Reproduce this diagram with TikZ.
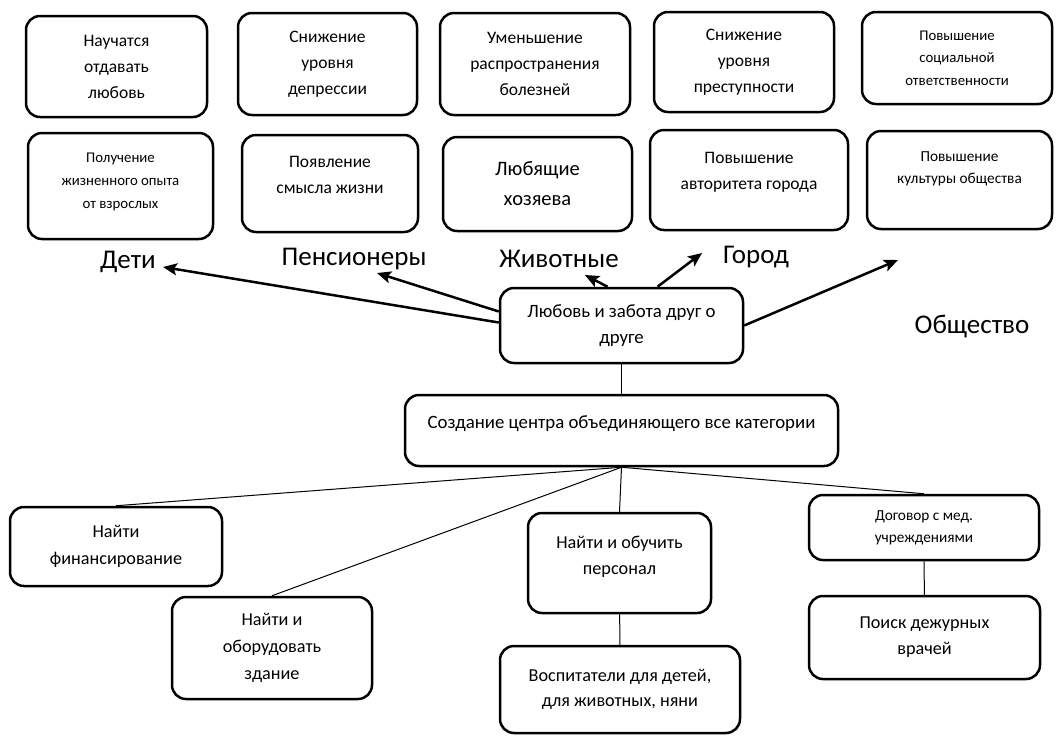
\documentclass[tikz,border=0pt]{standalone}
\usepackage{fontspec}
\setmainfont{Carlito}
\usetikzlibrary{arrows.meta}

\tikzset{
  box/.style={draw, line width=2.5pt, rounded corners=14pt, align=center, inner sep=0pt},
  fnt/.style 2 args={font=\fontsize{#1}{#2}\selectfont},
  cat/.style={anchor=base, font=\fontsize{27}{30}\selectfont},
  arr/.style={-{Stealth[length=14pt,width=12pt,inset=3pt]}, line width=2.5pt},
  link/.style={line width=1pt}
}

\begin{document}
\begin{tikzpicture}[x=1pt,y=-1pt]
    \useasboundingbox (0,0) rectangle (1060,737);
    % upper row
    \node[box, fnt={17.5}{26}, minimum width=181, minimum height=101] (learn) at (116.5,66.5) {Научатся\\отдавать\\любовь};
    \node[box, fnt={17.5}{26}, minimum width=179, minimum height=102] (depr) at (327.5,64) {Снижение\\уровня\\депрессии};
    \node[box, fnt={17.5}{26}, minimum width=190, minimum height=102] (ill) at (535,64) {Уменьшение\\распространения\\болезней};
    \node[box, fnt={17.5}{26}, minimum width=180, minimum height=100] (crime) at (744,62) {Снижение\\уровня\\преступности};
    \node[box, fnt={14.8}{22.5}, minimum width=190, minimum height=92] (resp) at (957,58) {Повышение\\социальной\\ответственности};
    % lower row
    \node[box, fnt={14.8}{23}, minimum width=185, minimum height=106] (exp) at (120.5,186) {Получение\\жизненного опыта\\от взрослых\\[-13pt]\mbox{}};
    \node[box, fnt={17.5}{26}, minimum width=176, minimum height=97] (sense) at (330,183.5) {Появление\\смысла жизни\\[-9pt]\mbox{}};
    \node[box, fnt={20.5}{30}, minimum width=189, minimum height=94] (owners) at (537.5,184) {Любящие\\хозяева};
    \node[box, fnt={17.5}{26}, minimum width=198, minimum height=100] (auth) at (749,180) {Повышение\\авторитета города\\[-8pt]\mbox{}};
    \node[box, fnt={15.3}{22}, minimum width=185, minimum height=98] (cult) at (959.5,180) {Повышение\\культуры общества\\[2pt]\mbox{}};
    % categories
    \node[cat] (kids) at (128,268) {Дети};
    \node[cat] (old) at (354,265) {Пенсионеры};
    \node[cat] (pets) at (559,267) {Животные};
    \node[cat] (city) at (756,263) {Город};
    \node[cat] (soc) at (972,333) {Общество};
    \coordinate (tkids) at (163,267);
    \coordinate (told) at (377,273);
    \coordinate (tpets) at (585,275);
    \coordinate (tcity) at (702,253);
    \coordinate (tsoc) at (898,260);
    % center
    \node[box, fnt={18.8}{26}, minimum width=243, minimum height=75] (love) at (621.5,325.5) {Любовь и забота друг о\\друге};
    \node[box, fnt={18.8}{26}, minimum width=433, minimum height=71] (centre) at (621.5,430.5) {Создание центра объединяющего все категории\\[-9pt]\mbox{}};
    % tasks
    \node[box, fnt={18.2}{27}, minimum width=212, minimum height=79] (money) at (116,546.5) {Найти\\финансирование};
    \node[box, fnt={18.2}{27}, minimum width=200, minimum height=102] (house) at (272,648) {Найти и\\оборудовать\\здание};
    \node[box, fnt={18.2}{26}, minimum width=183, minimum height=100] (staff) at (619.5,563) {Найти и обучить\\персонал\\[-10pt]\mbox{}};
    \node[box, fnt={18.2}{25}, minimum width=240, minimum height=87] (tutors) at (620,689.5) {Воспитатели для детей,\\для животных, няни};
    \node[box, fnt={15.3}{22}, minimum width=230, minimum height=65] (med) at (924,527.5) {Договор с мед.\\учреждениями};
    \node[box, fnt={18.2}{26}, minimum width=231, minimum height=83] (docs) at (924.5,637.5) {Поиск дежурных\\врачей};
    % arrows
    \draw[arr] ([yshift=3]love.west) -- (tkids);
    \draw[arr] ([yshift=14]love.west) -- (told);
    \draw[arr] ([xshift=-14]love.north) -- (tpets);
    \draw[arr] ([xshift=36]love.north) -- (tcity);
    \draw[arr] (love.east) -- (tsoc);
    \draw[link] (love) -- (centre);
    \draw[link] (centre.south) edge (money.north) edge (house.north) edge (staff.north) edge (med.north);
    \draw[link] (staff) -- (tutors);
    \draw[link] (med) -- (docs);
\end{tikzpicture}
\end{document}
